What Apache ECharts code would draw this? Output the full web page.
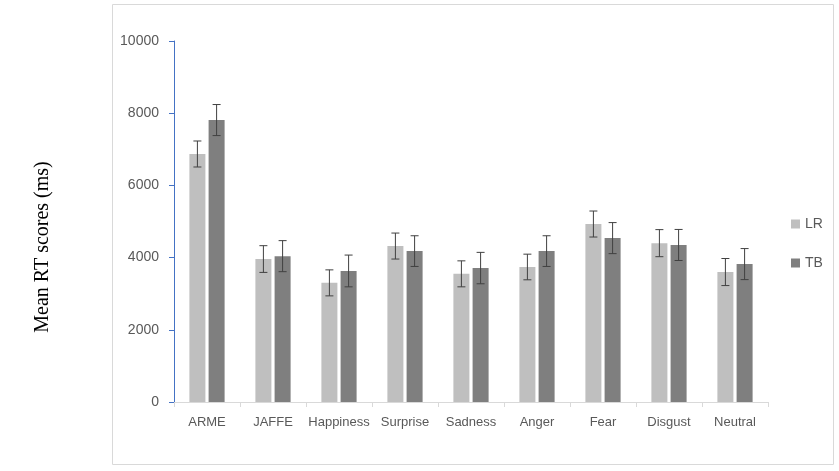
<!DOCTYPE html>
<html>
<head>
<meta charset="utf-8">
<script src="https://cdn.jsdelivr.net/npm/echarts@6/dist/echarts.min.js"></script>
<style>
  html, body { margin: 0; padding: 0; background: #fff; }
  #chart { width: 839px; height: 471px; }
</style>
</head>
<body>
<div id="chart"></div>
<script>
// categories and values
var categories = ['ARME', 'JAFFE', 'Happiness', 'Surprise', 'Sadness', 'Anger', 'Fear', 'Disgust', 'Neutral']
var lrValues = [6870, 3960, 3300, 4320, 3550, 3740, 4930, 4400, 3600]
var lrErrors = [360, 370, 360, 360, 360, 355, 360, 375, 375]
var tbValues = [7810, 4040, 3630, 4180, 3710, 4180, 4540, 4350, 3820]
var tbErrors = [430, 430, 440, 425, 435, 425, 430, 430, 430]
var yTicks = [0, 2000, 4000, 6000, 8000, 10000]

var BAR_W = 16
var BAR_GAP = 3.2

// build [index, low, high] rows for the error bars
function errRows(vals, errs) {
  return vals.map(function (v, i) {
    return [i, v - errs[i], v + errs[i]]
  })
}

function errorBar(offset) {
  return function (params, api) {
    var top = api.coord([api.value(0), api.value(2)])
    var bot = api.coord([api.value(0), api.value(1)])
    var x = top[0] + offset
    var cap = 4
    var style = { stroke: '#404040', lineWidth: 1 }
    return {
      type: 'group',
      children: [
        { type: 'line', shape: { x1: x, y1: top[1], x2: x, y2: bot[1] }, style: style },
        { type: 'line', shape: { x1: x - cap, y1: top[1], x2: x + cap, y2: top[1] }, style: style },
        { type: 'line', shape: { x1: x - cap, y1: bot[1], x2: x + cap, y2: bot[1] }, style: style }
      ]
    }
  }
}

var myChart = echarts.init(document.getElementById('chart'))
var half = (BAR_W + BAR_GAP) / 2
var option = {
  animation: false,
  textStyle: { fontFamily: 'Liberation Sans' },
  graphic: [
    {
      type: 'rect',
      shape: { x: 112.5, y: 4.5, width: 721, height: 460 },
      style: { fill: 'none', stroke: '#d9d9d9', lineWidth: 1 },
      silent: true
    },
    {
      type: 'text',
      x: 43,
      y: 247,
      rotation: Math.PI / 2,
      style: {
        text: 'Mean RT scores (ms)',
        font: '20px "Liberation Serif"',
        fill: '#000',
        align: 'center',
        verticalAlign: 'middle'
      }
    }
  ],
  grid: {
    left: 174,
    right: 71,
    top: 41,
    bottom: 69
  },
  legend: {
    orient: 'vertical',
    left: 786,
    top: 212,
    itemWidth: 9,
    itemHeight: 9,
    itemGap: 25,
    icon: 'rect',
    textStyle: { color: '#595959', fontSize: 14, fontFamily: 'Liberation Sans' },
    data: ['LR', 'TB']
  },
  xAxis: {
    type: 'category',
    data: categories,
    axisLine: { lineStyle: { color: '#d9d9d9' } },
    axisTick: { show: true, interval: 0, length: 5, lineStyle: { color: '#d9d9d9' } },
    axisLabel: { color: '#595959', fontSize: 13, margin: 14, interval: 0 }
  },
  yAxis: {
    type: 'value',
    min: 0,
    max: 10000,
    interval: 2000,
    axisLine: { show: true, lineStyle: { color: '#4472c4' } },
    axisTick: { show: true, length: 5, lineStyle: { color: '#4472c4' } },
    splitLine: { show: false },
    axisLabel: {
      color: '#595959',
      fontSize: 14,
      margin: 15,
      formatter: function (v) { return yTicks.indexOf(v) >= 0 ? String(v) : '' }
    }
  },
  series: [
    {
      name: 'LR',
      type: 'bar',
      data: lrValues,
      barWidth: BAR_W,
      barGap: '20%',
      itemStyle: { color: '#bfbfbf' }
    },
    {
      name: 'TB',
      type: 'bar',
      data: tbValues,
      barWidth: BAR_W,
      barGap: '20%',
      itemStyle: { color: '#7f7f7f' }
    },
    {
      type: 'custom',
      data: errRows(lrValues, lrErrors),
      renderItem: errorBar(-half),
      encode: { x: 0, y: [1, 2] },
      z: 5
    },
    {
      type: 'custom',
      data: errRows(tbValues, tbErrors),
      renderItem: errorBar(half),
      encode: { x: 0, y: [1, 2] },
      z: 5
    }
  ]
}
option && myChart.setOption(option)
</script>
</body>
</html>
